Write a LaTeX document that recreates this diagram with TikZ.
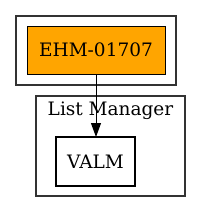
\documentclass[tikz,border=0pt]{standalone}
\usepackage{fontspec}
\setmainfont{DejaVu Serif}
\usetikzlibrary{arrows.meta}
\tikzset{
  lblfont/.style={font=\fontsize{18.5}{22}\selectfont},
  cluster/.style={draw=black!80, line width=1.1pt, inner sep=0pt, outer sep=0pt},
  nodebox/.style={draw=black, line width=1pt, inner sep=0pt, outer sep=0pt, lblfont},
  edge/.style={draw=black, line width=1pt, -{Triangle[length=14pt,width=10pt]}}
}
\begin{document}
\begin{tikzpicture}[x=1pt,y=-1pt]
  \useasboundingbox (0,0) rectangle (201,212);
  \node[cluster, minimum width=160pt, minimum height=69pt] (c1) at (96,50.5) {};
  \node[cluster, minimum width=149pt, minimum height=100pt] (c2) at (110.5,146) {};
  \node[anchor=base, inner sep=0pt, lblfont] (lbl) at (110.5,115) {List Manager};
  \node[nodebox, fill={rgb,255:red,255;green,165;blue,0}, minimum width=138pt, minimum height=48pt] (ehm) at (96,50) {EHM-01707};
  \node[nodebox, line width=2.2pt, minimum width=79pt, minimum height=49pt] (valm) at (95.5,161.5) {VALM};
  \draw[edge] (ehm.south) -- (ehm.south |- valm.north);
\end{tikzpicture}
\end{document}
